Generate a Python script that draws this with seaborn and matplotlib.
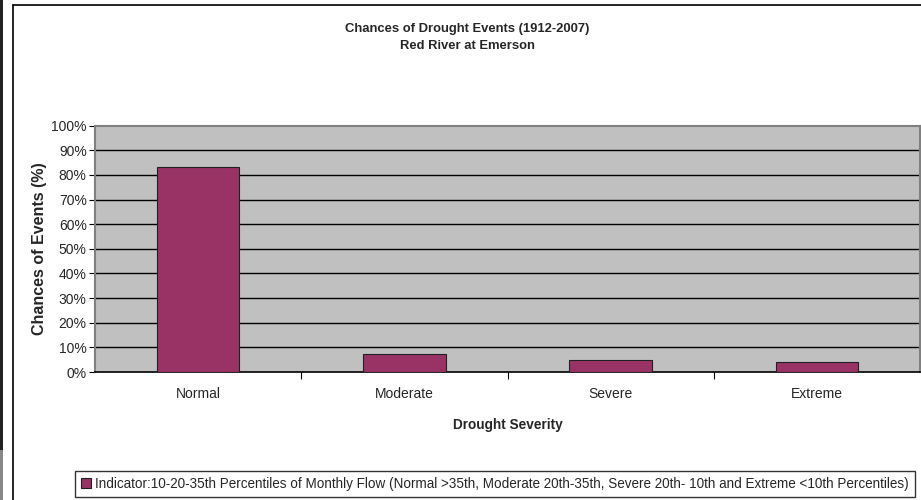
import matplotlib
matplotlib.use("Agg")
import matplotlib.pyplot as plt
import seaborn as sns
import pandas as pd
from matplotlib.patches import Patch, Rectangle
from matplotlib.lines import Line2D
from matplotlib.ticker import PercentFormatter

categories = ["Normal", "Moderate", "Severe", "Extreme"]
chances = [83.3, 7.5, 4.7, 4.2]
y_ticks = [0, 10, 20, 30, 40, 50, 60, 70, 80, 90, 100]
title_lines = ["Chances of Drought Events (1912-2007)", "Red River at Emerson"]
x_label = "Drought Severity"
y_label = "Chances of Events (%)"
legend_label = ("Indicator:10-20-35th Percentiles of Monthly Flow (Normal >35th, Moderate 20th-35th, "
                "Severe 20th- 10th and Extreme <10th Percentiles)")

sns.set_theme(style="white")
plt.rcParams['font.family'] = ['Liberation Sans', 'DejaVu Sans']

bar_color = "#993366"
df = pd.DataFrame({"Severity": categories, "Chance": chances})

fig = plt.figure(figsize=(9.21, 5.0), dpi=100)
fig.patch.set_facecolor("white")
ax = fig.add_axes([95/921, 1-372/500, (920-95)/921, (372-125.7)/500])
ax.set_facecolor("#C0C0C0")

sns.barplot(data=df, x="Severity", y="Chance", color=bar_color, saturation=1,
            width=0.4, edgecolor="#202020", linewidth=0.8, ax=ax, zorder=3)

ax.set_ylim(0, 100)
ax.set_xlim(-0.5, len(categories) - 0.5)
ax.set_yticks(y_ticks)
ax.yaxis.set_major_formatter(PercentFormatter(decimals=0))
for v in y_ticks[1:-1]:
    ax.axhline(v, color="black", lw=1.0, zorder=1)

ax.set_xticks(range(len(categories)))
ax.set_xticklabels(categories, fontsize=10)
ax.tick_params(axis='x', length=0, pad=11)
ax.set_xticks([0.5, 1.5, 2.5], minor=True)
ax.tick_params(axis='x', which='minor', direction='out', length=5, color='black', width=0.8, bottom=True)
ax.tick_params(axis='y', direction='out', length=4, color='black', width=0.8, left=True, labelsize=10, pad=2)

for s in ["top", "right", "left"]:
    ax.spines[s].set_color("#808080")
    ax.spines[s].set_linewidth(1.5)
ax.spines["bottom"].set_color("black")
ax.spines["bottom"].set_linewidth(1.2)

ax.set_xlabel(x_label, fontsize=9.8, fontweight="bold", labelpad=12)
ax.set_ylabel(y_label, fontsize=11.5, fontweight="bold")
ax.yaxis.set_label_coords(-0.058, 0.5)

fig.text(467/921, 1-29/500, title_lines[0], ha="center", va="center", fontsize=9.4, fontweight="bold")
fig.text(467/921, 1-46/500, title_lines[1], ha="center", va="center", fontsize=9.4, fontweight="bold")

# chart frame
fig.add_artist(Line2D([13/921, 13/921], [0, 1-5/500], transform=fig.transFigure, color="black", lw=1.2))
fig.add_artist(Line2D([13/921, 1], [1-5/500, 1-5/500], transform=fig.transFigure, color="black", lw=1.2))
fig.add_artist(Rectangle((0, 50/500), 3/921, 1-50/500, transform=fig.transFigure, color="#222222", lw=0))
fig.add_artist(Rectangle((0, 0), 3/921, 50/500, transform=fig.transFigure, color="#888888", lw=0))

handle = Patch(facecolor=bar_color, edgecolor="#202020", linewidth=0.8)
leg = fig.legend([handle], [legend_label], loc="upper left",
                 bbox_to_anchor=(75/921, 1-470.5/500, (915-75)/921, 0.0), bbox_transform=fig.transFigure,
                 mode="expand", fontsize=9.75, frameon=True, fancybox=False, handlelength=0.7,
                 handleheight=0.7, handletextpad=0.3, borderpad=0.45, borderaxespad=0)
leg.get_frame().set_edgecolor("black")
leg.get_frame().set_linewidth(1.0)

fig.savefig("out.png", dpi=100)
